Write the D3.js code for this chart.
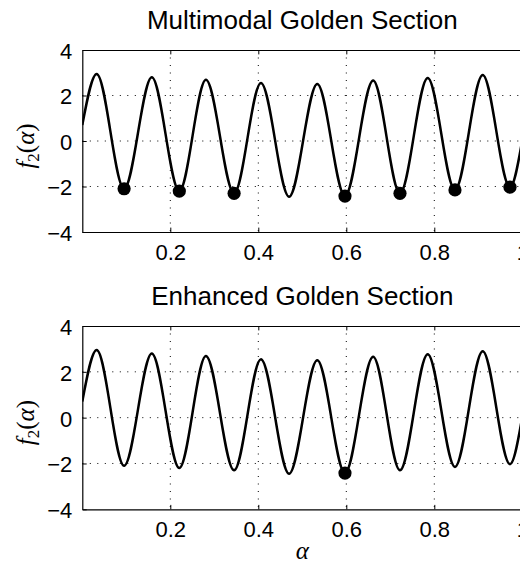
<html>
<head>
<script src="https://d3js.org/d3.v7.min.js"></script>
<style>
  body { margin: 0; background: #fff; }
  svg { display: block; }
  text { font-family: "Liberation Sans", Arial, Helvetica, sans-serif; fill: #000; }
  .math { font-family: "Liberation Serif", "Times New Roman", serif; }
</style>
</head>
<body>
<script>
// curve f2(alpha): start, alternating peaks / troughs, end
var alphaPts = [0, 0.0327, 0.095, 0.158, 0.2205, 0.281, 0.345, 0.406, 0.470, 0.534, 0.597, 0.661, 0.722, 0.785, 0.847, 0.910, 0.972, 1.0];
var f2Vals   = [0.7, 2.95, -2.1, 2.8, -2.2, 2.69, -2.3, 2.55, -2.45, 2.51, -2.42, 2.66, -2.3, 2.77, -2.15, 2.9, -2.03, 0.05];

// minima found by each method
var multiMinA = [0.095, 0.2205, 0.345, 0.597, 0.722, 0.847, 0.972];
var multiMinF = [-2.1, -2.2, -2.3, -2.42, -2.3, -2.15, -2.03];
var enhMinA = [0.597];
var enhMinF = [-2.42];

var xTicks = [0.2, 0.4, 0.6, 0.8, 1];
var yTicks = [-4, -2, 0, 2, 4];
var titles = ["Multimodal Golden Section", "Enhanced Golden Section"];

var W = 520, H = 566;
var left = 82.3, right = 522.3;

var svg = d3.select("body").append("svg")
    .attr("width", W)
    .attr("height", H);

var x = d3.scaleLinear().domain([0, 1]).range([left, right]);

var curve = alphaPts.map(function(a, i) { return [a, f2Vals[i]]; });

function panel(top, bottom, title, minA, minF, id) {
    var y = d3.scaleLinear().domain([-4, 4]).range([bottom, top]);
    var g = svg.append("g");

    g.append("clipPath").attr("id", "clip" + id)
      .append("rect")
        .attr("x", left).attr("y", top)
        .attr("width", right - left).attr("height", bottom - top);

    // dotted grid
    g.selectAll(".gx").data(xTicks.filter(d => d < 1)).enter()
      .append("line")
        .attr("x1", d => x(d)).attr("x2", d => x(d))
        .attr("y1", top).attr("y2", bottom)
        .attr("stroke", "#000").attr("stroke-width", 1)
        .attr("stroke-dasharray", "1,6.5");
    g.selectAll(".gy").data(yTicks.filter(d => d > -4 && d < 4)).enter()
      .append("line")
        .attr("x1", left).attr("x2", right)
        .attr("y1", d => y(d)).attr("y2", d => y(d))
        .attr("stroke", "#000").attr("stroke-width", 1)
        .attr("stroke-dasharray", "1,6.5");

    // axes with inward ticks
    var xb = g.append("g").attr("transform", "translate(0," + bottom + ")")
        .call(d3.axisBottom(x).tickValues(xTicks).tickSizeInner(-4.4).tickSizeOuter(0).tickPadding(12)
            .tickFormat(d3.format("")));
    var xt = g.append("g").attr("transform", "translate(0," + top + ")")
        .call(d3.axisTop(x).tickValues(xTicks).tickSizeInner(-4.4).tickSizeOuter(0).tickFormat(""));
    var yl = g.append("g").attr("transform", "translate(" + left + ",0)")
        .call(d3.axisLeft(y).tickValues(yTicks).tickSizeInner(-4.4).tickSizeOuter(0).tickPadding(10)
            .tickFormat(d => d < 0 ? "\u2212" + Math.abs(d) : d));
    [xb, xt, yl].forEach(function(a) {
        a.select(".domain").attr("stroke", "#000").attr("stroke-width", 1.2);
        a.selectAll(".tick line").attr("stroke", "#000").attr("stroke-width", 1);
        a.selectAll(".tick text").attr("font-size", 22).attr("fill", "#000")
          .style("font-family", '"Liberation Sans", Arial, sans-serif');
    });
    xb.selectAll(".tick text").attr("dy", "0.72em").attr("y", 12);
    yl.selectAll(".tick text").attr("dy", "0.38em");

    // curve
    g.append("path")
        .datum(curve)
        .attr("clip-path", "url(#clip" + id + ")")
        .attr("fill", "none")
        .attr("stroke", "#000")
        .attr("stroke-width", 2.5)
        .attr("d", d3.line().x(d => x(d[0])).y(d => y(d[1])).curve(d3.curveMonotoneX));

    // minima
    g.selectAll(".min").data(minA).enter()
      .append("circle")
        .attr("cx", d => x(d))
        .attr("cy", (d, i) => y(minF[i]))
        .attr("r", 6.6)
        .attr("fill", "#000");

    // title
    g.append("text")
        .attr("x", (left + right) / 2)
        .attr("y", top - 21)
        .attr("text-anchor", "middle")
        .attr("font-size", 26)
        .text(title);

    // y label f2(alpha)
    var yt = g.append("text")
        .attr("class", "math")
        .attr("transform", "translate(34," + ((top + bottom) / 2 + 5) + ") rotate(-90)")
        .attr("text-anchor", "middle")
        .attr("font-size", 25);
    yt.append("tspan").attr("font-style", "italic").text("f");
    yt.append("tspan").attr("font-size", 17).attr("dy", 5).text("2");
    yt.append("tspan").attr("dy", -5).text("(");
    yt.append("tspan").attr("font-style", "italic").text("\u03b1");
    yt.append("tspan").text(")");
}

panel(50, 232, titles[0], multiMinA, multiMinF, 1);
panel(326, 509.3, titles[1], enhMinA, enhMinF, 2);

svg.append("text")
    .attr("class", "math")
    .attr("x", (left + right) / 2)
    .attr("y", 559)
    .attr("text-anchor", "middle")
    .attr("font-size", 25)
    .attr("font-style", "italic")
    .text("\u03b1");
</script>
</body>
</html>
